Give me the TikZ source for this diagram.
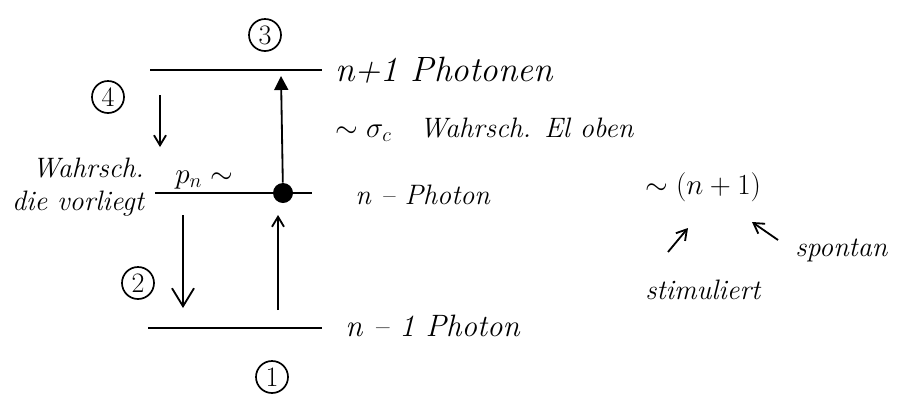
\documentclass[tikz,border=0pt]{standalone}
\usetikzlibrary{arrows.meta, positioning, calc}
\begin{document}
\begin{tikzpicture}[
  x=0.025cm, y=-0.025cm,
  font=\fontsize{20}{24}\selectfont\itshape,
  node distance=4mm,
  level/.style={line width=1.4pt},
  lbl/.style={anchor=west, inner sep=0pt},
  big/.style={font=\fontsize{25}{28}\selectfont\itshape},
  num/.style={circle, draw, line width=1.2pt, inner sep=0pt, minimum size=0.8cm,
              font=\fontsize{20}{24}\selectfont\upshape},
  arr/.style={-{Straight Barb[length=2.5mm, width=3mm]}, line width=1.3pt},
  openarr/.style={-{Straight Barb[length=4.5mm, width=5.5mm]}, line width=1.3pt},
  fillarr/.style={-{Triangle[length=3.5mm, width=3.5mm]}, line width=1.3pt},
  atom/.style={circle, fill=black, inner sep=0pt, minimum size=5mm},
]
\useasboundingbox (0,0) rectangle (908,396);
% the three levels
\coordinate (topL) at (150,70);  \coordinate (topR) at (322,70);
\coordinate (midL) at (155,193); \coordinate (midR) at (312,193);
\coordinate (botL) at (148,328); \coordinate (botR) at (322,328);
\foreach \l in {top,mid,bot}
  \draw [level] (\l L) -- (\l R);
\node (atom) [atom] at (283,193) {};
% level labels
\node (topLbl) [lbl, big] at (335,70) {n+1 Photonen};
\node (midLbl) [lbl] at (355,195) {n -- Photon};
\node (botLbl) [lbl, font=\fontsize{22}{26}\selectfont\itshape] at (345,326) {n -- 1 Photon};
\node (rate)   [lbl] at (335,130) {$\sim\sigma_c$\quad Wahrsch. El oben};
\node (wahr)   [align=right, inner sep=0pt] at (78,187) {Wahrsch.\\die vorliegt};
\node (pn)     [lbl] at (175,180) {$p_n\sim$};
% circled step numbers
\node (n3) [num] at (265,35)  {3};
\node (n4) [num] at (108,97)  {4};
\node (n2) [num] at (138,283) {2};
\node (n1) [num] at (272,377) {1};
% transitions
\coordinate (a4s) at (160,95);   \coordinate (a4e) at (160,147);
\coordinate (a2s) at (183,215);  \coordinate (a2e) at (183,308);
\coordinate (a1s) at (278,310);  \coordinate (a1e) at (278,215);
\coordinate (a3e) at (281,76);
\draw [arr] (a4s) -- (a4e);
\draw [openarr] (a2s) -- (a2e);
\draw [arr] (a1s) -- (a1e);
\draw [fillarr] (atom) -- (a3e);
% n+1 split
\node (nplus) [lbl] at (645,187) {$\sim(n+1)$};
\node (stim)  [lbl] at (645,290) {stimuliert};
\node (spon)  [lbl] at (795,250) {spontan};
\coordinate (stimS) at (668,252); \coordinate (stimE) at (688,228);
\coordinate (sponS) at (778,240); \coordinate (sponE) at (752,222);
\draw [arr] (stimS) -- (stimE);
\draw [arr] (sponS) -- (sponE);
\end{tikzpicture}
\end{document}
